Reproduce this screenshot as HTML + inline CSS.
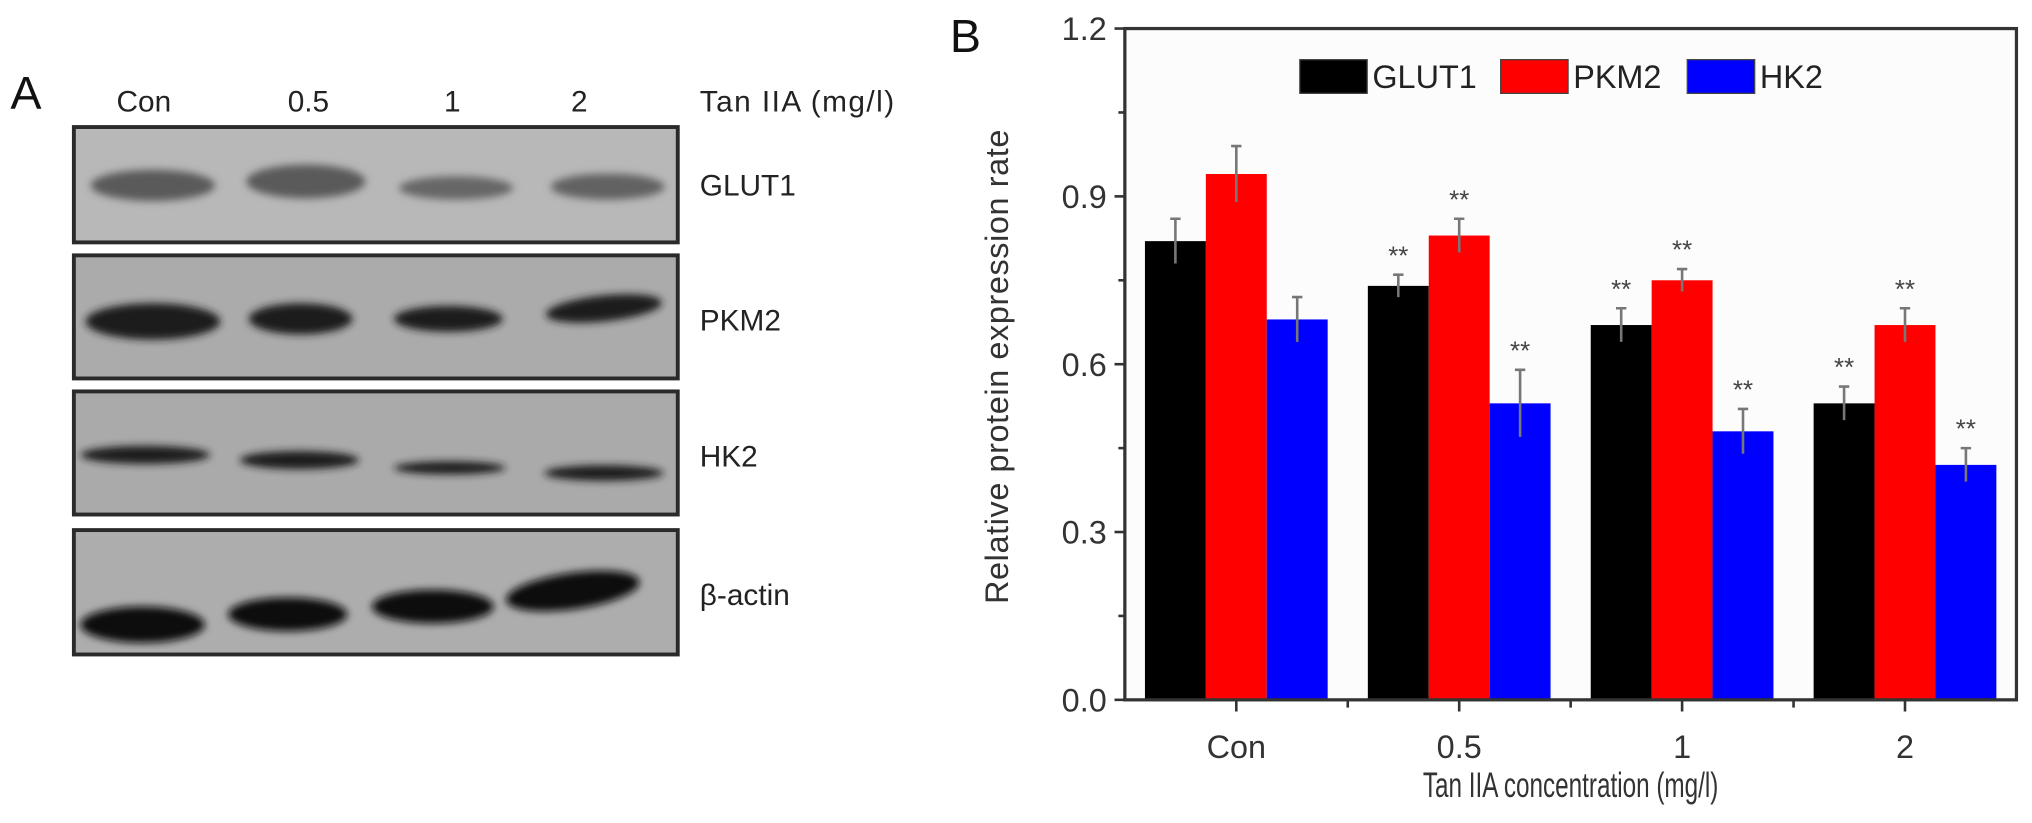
<!DOCTYPE html>
<html><head><meta charset="utf-8"><style>
html,body{margin:0;padding:0;background:#fff;}
svg{display:block;font-family:"Liberation Sans",Arial,sans-serif;}
</style></head><body>
<svg id="fig" width="2032" height="823" viewBox="0 0 1568 635">
<defs>
<filter id="blur" x="-20%" y="-100%" width="140%" height="300%"><feGaussianBlur stdDeviation="3"/></filter>
</defs>
<rect x="0" y="0" width="1568" height="635" fill="#fff"/>
<g>
<text x="8" y="84" font-size="36" fill="#111">A</text>
<g font-size="23" fill="#222" text-anchor="middle">
<text x="111" y="86">Con</text>
<text x="238" y="86">0.5</text>
<text x="349" y="86">1</text>
<text x="447" y="86">2</text>
</g>
<text x="540" y="86" font-size="23" fill="#222" textLength="150">Tan IIA (mg/l)</text>
<g>
<rect x="57" y="98" width="466" height="89" fill="#b8b8b8" stroke="#2a2a2a" stroke-width="3"/>
<g filter="url(#blur)" fill="#5a5a5a">
<ellipse cx="118" cy="143" rx="48" ry="12"/><ellipse cx="236" cy="140" rx="46" ry="13"/>
<ellipse cx="352" cy="145" rx="44" ry="9" fill="#666"/><ellipse cx="469" cy="144" rx="44" ry="10" fill="#626262"/>
</g>
<text x="540" y="151" font-size="23" fill="#222">GLUT1</text>
</g>
<g>
<rect x="57" y="197" width="466" height="95" fill="#ababab" stroke="#2a2a2a" stroke-width="3"/>
<g filter="url(#blur)" fill="#1a1a1a">
<ellipse cx="118" cy="248" rx="52" ry="14"/><ellipse cx="232" cy="246" rx="40" ry="12"/>
<ellipse cx="346" cy="246" rx="42" ry="10"/><ellipse cx="466" cy="238" rx="45" ry="10" transform="rotate(-6 466 238)"/>
</g>
<text x="540" y="255" font-size="23" fill="#222">PKM2</text>
</g>
<g>
<rect x="57" y="302" width="466" height="95" fill="#aaaaaa" stroke="#2a2a2a" stroke-width="3"/>
<g filter="url(#blur)" fill="#1a1a1a">
<ellipse cx="112" cy="351" rx="50" ry="7"/><ellipse cx="231" cy="355" rx="46" ry="7"/>
<ellipse cx="347" cy="361" rx="43" ry="5"/><ellipse cx="466" cy="365" rx="46" ry="6"/>
</g>
<text x="540" y="360" font-size="23" fill="#222">HK2</text>
</g>
<g>
<rect x="57" y="409" width="466" height="96" fill="#adadad" stroke="#2a2a2a" stroke-width="3"/>
<g filter="url(#blur)" fill="#111">
<ellipse cx="110" cy="482" rx="48" ry="14"/><ellipse cx="222" cy="474" rx="46" ry="13"/>
<ellipse cx="334" cy="468" rx="47" ry="13"/><ellipse cx="442" cy="456" rx="52" ry="14" transform="rotate(-8 442 456)"/>
</g>
<text x="540" y="467" font-size="23" fill="#222">β-actin</text>
</g>
</g>
<g id="chart">
<text x="733" y="40" font-size="36" fill="#111">B</text>
</g>
</svg>
<script>
const categories = ["Con", "0.5", "1", "2"];
const seriesNames = ["GLUT1", "PKM2", "HK2"];
const seriesColors = ["#000000", "#ff0000", "#0000ff"];
const glut1 = [0.82, 0.74, 0.67, 0.53];
const pkm2 = [0.94, 0.83, 0.75, 0.67];
const hk2 = [0.68, 0.53, 0.48, 0.42];
const glut1Err = [0.04, 0.02, 0.03, 0.03];
const pkm2Err = [0.05, 0.03, 0.02, 0.03];
const hk2Err = [0.04, 0.06, 0.04, 0.03];
const glut1Sig = [false, true, true, true];
const pkm2Sig = [false, true, true, true];
const hk2Sig = [false, true, true, true];
const yTicks = [0.0, 0.3, 0.6, 0.9, 1.2];
const yTickLabels = ["0.0", "0.3", "0.6", "0.9", "1.2"];

const NS = "http://www.w3.org/2000/svg";
const chart = document.getElementById("chart");
const L = 868, R = 1556, T = 22, B = 540, yMax = 1.2;
const band = (R - L) / categories.length;
const barW = 47;
function y(v) { return B - (v / yMax) * (B - T); }
function xc(i) { return L + band * (i + 0.5); }
function mk(tag, attrs, parent) {
  const e = document.createElementNS(NS, tag);
  for (const k in attrs) e.setAttribute(k, attrs[k]);
  (parent || chart).appendChild(e);
  return e;
}
const values = [glut1, pkm2, hk2];
const errs = [glut1Err, pkm2Err, hk2Err];
const sigs = [glut1Sig, pkm2Sig, hk2Sig];

const plotBg = mk("rect", {x: L, y: T, width: R - L, height: B - T, fill: "#fcfcfc"});



for (let s = 0; s < values.length; s++) {
  for (let i = 0; i < categories.length; i++) {
    const v = values[s][i];
    const bx = xc(i) + (s - 1.5) * barW;
    const bar = mk("rect", {x: bx, y: y(v), width: barW, height: B - y(v), fill: seriesColors[s]});
    
    
    const cx = bx + barW / 2;
    const e = errs[s][i];
    const eb = mk("path", {d: `M${cx} ${y(v - e)}V${y(v + e)}M${cx - 4} ${y(v + e)}H${cx + 4}`, stroke: "#777", "stroke-width": 2, fill: "none"});
    
    
    if (sigs[s][i]) {
      const st = mk("text", {x: cx, y: y(v + e) - 8, "font-size": 20, fill: "#444", "text-anchor": "middle"});
      st.textContent = "**";
      
      
    }
  }
}

const frame = mk("rect", {x: L, y: T, width: R - L, height: B - T, fill: "none", stroke: "#333", "stroke-width": 2.5});



for (let k = 0; k < yTicks.length; k++) {
  const ty = y(yTicks[k]);
  const tk = mk("line", {x1: L - 8, x2: L, y1: ty, y2: ty, stroke: "#333", "stroke-width": 2});
  
  
  const lb = mk("text", {x: L - 14, y: ty + 9, "font-size": 25, fill: "#333", "text-anchor": "end"});
  lb.textContent = yTickLabels[k];
  
  
  if (k < yTicks.length - 1) {
    const my = y((yTicks[k] + yTicks[k + 1]) / 2);
    const mt = mk("line", {x1: L - 5, x2: L, y1: my, y2: my, stroke: "#333", "stroke-width": 2});
    
    
  }
}
for (let i = 0; i < categories.length; i++) {
  const tk = mk("line", {x1: xc(i), x2: xc(i), y1: B, y2: B + 9, stroke: "#333", "stroke-width": 2});
  
  
  if (i > 0) {
    const mt = mk("line", {x1: L + band * i, x2: L + band * i, y1: B, y2: B + 6, stroke: "#333", "stroke-width": 2});
    
    
  }
  const lb = mk("text", {x: xc(i), y: B + 45, "font-size": 25, fill: "#333", "text-anchor": "middle"});
  lb.textContent = categories[i];
  
  
}
const xt = mk("text", {x: (L + R) / 2, y: 615, "font-size": 27, fill: "#333", "text-anchor": "middle", textLength: 228, lengthAdjust: "spacingAndGlyphs"});
xt.textContent = "Tan IIA concentration (mg/l)";


const yt = mk("text", {x: 0, y: 0, "font-size": 25, fill: "#333", "text-anchor": "middle", transform: "translate(778 283) rotate(-90)", textLength: 366});
yt.textContent = "Relative protein expression rate";



const legX = [1003, 1158, 1302];
for (let s = 0; s < seriesNames.length; s++) {
  const g = mk("g", {});
  
  
  mk("rect", {x: legX[s], y: 46, width: 52, height: 26, fill: seriesColors[s], stroke: "#444", "stroke-width": 1}, g);
  const t = mk("text", {x: legX[s] + 56, y: 68, "font-size": 25, fill: "#222"}, g);
  t.textContent = seriesNames[s];
}
</script>
</body></html>
